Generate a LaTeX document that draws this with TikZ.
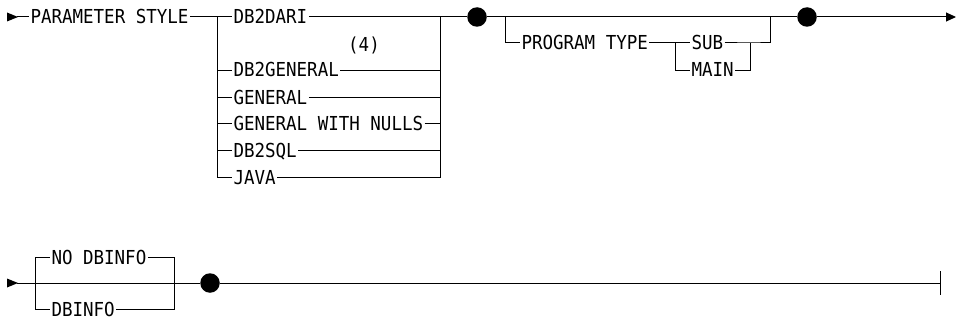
\documentclass[tikz,border=0pt]{standalone}
\usepackage{fontspec}
\usepackage{graphicx}
\usepackage{tikz}
\usetikzlibrary{arrows.meta}
\newfontfamily\railfont{DejaVu Sans Mono}
\newcommand{\railword}[1]{\scalebox{1}[1.1]{#1}}

\begin{document}
\begin{tikzpicture}[x=1pt, y=-1pt, line width=1pt,
    kw/.style={font=\railfont\fontsize{17.5}{20}\selectfont, inner xsep=1pt, inner ysep=0pt,
               text height=14pt, text depth=0pt, anchor=west},
    bigdot/.style={circle, fill, inner sep=0pt, minimum size=19.5pt},
    endtip/.style={-{Triangle[length=10pt, width=9pt]}}]
    \useasboundingbox (0,0) rectangle (960,321);

    % first row
    \fill (7,12.5) -- (18,17) -- (7,21.5) -- cycle;
    \coordinate (s1) at (17,17);
    \node[kw] (ps) at (29,17) {\railword{PARAMETER STYLE}};
    \coordinate (sl) at (217,17);
    \coordinate (sr) at (440,17);
    \node[kw] (dari) at (232,17) {\railword{DB2DARI}};
    \node[kw, anchor=center, text depth=3.5pt] (note) at (364,46) {\railword{(4)}};
    \node[kw] (dbgen) at (232,70) {\railword{DB2GENERAL}};
    \node[kw] (gen) at (232,97) {\railword{GENERAL}};
    \node[kw] (genwn) at (232,123) {\railword{GENERAL WITH NULLS}};
    \node[kw] (sql) at (232,150) {\railword{DB2SQL}};
    \node[kw] (java) at (232,177) {\railword{JAVA}};
    \draw (s1) -- (ps);
    \draw (ps) -- (dari);
    \foreach \n in {dbgen, gen, genwn, sql}
    {
        \draw (sl |- \n) -- (\n) -- (sr |- \n);
    }
    \draw (sl) |- (java);
    \draw (sr) |- (java);

    \node[bigdot] (d1) at (477,17) {};
    \coordinate (ol) at (505,17);
    \coordinate (or) at (770,17);
    \node[kw] (pt) at (520,43) {\railword{PROGRAM TYPE}};
    \coordinate (tl) at (675,43);
    \coordinate (tr) at (750,43);
    \node[kw] (sub) at (690,43) {\railword{SUB}};
    \node[kw] (main) at (690,70) {\railword{MAIN}};
    \draw (ol) |- (pt);
    \draw (pt) -- (sub);
    \draw (sub) -- (tr) -- (tr -| or) -- (or);
    \draw (tl) |- (main);
    \draw (main) -| (tr);
    \node[bigdot] (d2) at (807,17) {};
    \coordinate (e1) at (956,17);
    \draw (dari) -- (d1) -- (d2);
    \draw[endtip] (d2) -- (e1);

    % second row
    \fill (7,278.5) -- (18,283) -- (7,287.5) -- cycle;
    \coordinate (s2) at (17,283);
    \coordinate (ll) at (35,283);
    \coordinate (lr) at (174,283);
    \node[kw] (nodb) at (50,257) {\railword{NO DBINFO}};
    \node[kw] (db) at (50,309) {\railword{DBINFO}};
    \draw (ll) |- (nodb);
    \draw (ll) |- (db);
    \draw (nodb) -| (lr);
    \draw (db) -| (lr);
    \node[bigdot] (d3) at (210,283) {};
    \coordinate (e2) at (940,283);
    \draw (s2) -- (d3) -- (e2);
    \draw (e2) ++(0,-12) -- ++(0,24);
\end{tikzpicture}
\end{document}
